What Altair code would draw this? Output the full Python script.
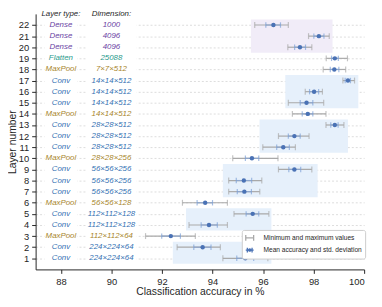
import altair as alt
import pandas as pd

FONT = "Liberation Sans"
INK = "#262626"

layers = list(range(1, 23))
layer_types = ["Conv", "Conv", "MaxPool", "Conv", "Conv", "MaxPool", "Conv", "Conv", "Conv",
               "MaxPool", "Conv", "Conv", "Conv", "MaxPool", "Conv", "Conv", "Conv", "MaxPool",
               "Flatten", "Dense", "Dense", "Dense"]
dims = ["224×224×64", "224×224×64", "112×112×64", "112×112×128", "112×112×128", "56×56×128",
        "56×56×256", "56×56×256", "56×56×256", "28×28×256", "28×28×512", "28×28×512",
        "28×28×512", "14×14×512", "14×14×512", "14×14×512", "14×14×512", "7×7×512",
        "25088", "4096", "4096", "1000"]
mins = [94.41, 92.60, 91.35, 93.07, 94.85, 92.81, 94.64, 94.64, 96.61, 94.80, 95.99,
        96.61, 98.49, 97.16, 97.00, 97.67, 99.16, 98.38, 98.50, 96.98, 97.80, 95.67]
std_lo = [94.96, 93.26, 91.99, 93.55, 95.33, 93.39, 94.98, 94.94, 97.02, 95.30, 96.54,
          97.00, 98.68, 97.55, 97.47, 97.84, 99.25, 98.66, 98.71, 97.25, 98.01, 96.11]
means = [95.30, 93.61, 92.35, 93.86, 95.59, 93.71, 95.26, 95.24, 97.24, 95.56, 96.80,
         97.24, 98.84, 97.77, 97.72, 98.02, 99.36, 98.82, 98.84, 97.46, 98.21, 96.41]
std_hi = [95.63, 93.94, 92.73, 94.19, 95.83, 94.00, 95.54, 95.55, 97.49, 95.83, 97.04,
          97.47, 98.97, 97.97, 97.97, 98.20, 99.46, 99.00, 98.98, 97.68, 98.41, 96.69]
maxs = [96.19, 94.31, 93.32, 94.59, 96.23, 94.59, 95.87, 95.95, 97.93, 96.59, 97.28,
        97.82, 99.20, 98.49, 98.40, 98.35, 99.62, 99.27, 99.34, 97.93, 98.62, 97.00]

# shaded group regions
box_x0 = [92.43, 92.95, 94.41, 95.86, 96.88, 95.52]
box_x1 = [96.33, 96.33, 98.16, 99.36, 99.77, 98.75]
box_y0 = [0.5, 3.5, 6.5, 10.5, 14.5, 19.5]
box_y1 = [2.5, 5.5, 9.5, 13.5, 17.5, 22.5]
box_kind = ["conv", "conv", "conv", "conv", "conv", "dense"]

type_colors = {"Conv": "#3471b3", "MaxPool": "#a8862c", "Flatten": "#2a9a8c", "Dense": "#6a42a3"}
box_colors = {"conv": "#e6f0fb", "dense": "#f1ecf8"}

TYPE_COL_X = 88
DIM_COL_X = 90

df = pd.DataFrame({"layer": layers, "type": layer_types, "dim": dims, "min": mins,
                   "slo": std_lo, "mean": means, "shi": std_hi, "max": maxs})
df["tcolor"] = df["type"].map(type_colors)
df["tx"] = TYPE_COL_X
df["dx"] = DIM_COL_X

boxes = pd.DataFrame({"x0": box_x0, "x1": box_x1, "y0": box_y0, "y1": box_y1, "kind": box_kind})
boxes["color"] = boxes["kind"].map(box_colors)

headers = pd.DataFrame({"label": ["Layer type:", "Dimension:"], "x": [TYPE_COL_X, DIM_COL_X], "y": [23.3, 23.3]})

x_scale = alt.Scale(domain=[87, 100], nice=False, zero=False)
y_scale = alt.Scale(domain=[0, 23], nice=False, zero=False)
x_axis = alt.Axis(values=[88, 90, 92, 94, 96, 98, 100], format="d", grid=False,
                  tickSize=4, labelPadding=3, titleBaseline="alphabetic", titleY=25)
y_axis = alt.Axis(values=layers, grid=True, gridDash=[2, 2], gridColor="#d4d4d4",
                  gridWidth=0.8, tickSize=4, labelPadding=3, titleX=-18)
XT = "Classification accuracy in %"
YT = "Layer number"


def X(f):
    return alt.X(f, type="quantitative", scale=x_scale, axis=x_axis, title=XT)


def X2(f):
    return alt.X2(f)


def Y(f):
    return alt.Y(f, type="quantitative", scale=y_scale, axis=y_axis, title=YT)


base = alt.Chart(df)

box_layer = alt.Chart(boxes).mark_rect().encode(
    x=X("x0"), x2=X2("x1"), y=Y("y0"), y2=alt.Y2("y1"),
    color=alt.Color("color:N", scale=None))

# white knock-outs behind the text columns
ko = base.transform_calculate(
    ya="datum.layer - 0.3", yb="datum.layer + 0.3",
    t0=f"{TYPE_COL_X} - 0.65", t1=f"{TYPE_COL_X} + 0.65",
    d0=f"{DIM_COL_X} - 1.0", d1=f"{DIM_COL_X} + 1.0")
ko_type = ko.mark_rect(color="white").encode(x=X("t0:Q"), x2=X2("t1"), y=Y("ya:Q"), y2=alt.Y2("yb"))
ko_dim = ko.mark_rect(color="white").encode(x=X("d0:Q"), x2=X2("d1"), y=Y("ya:Q"), y2=alt.Y2("yb"))

minmax = base.mark_rule(color="#a9a9a9", strokeWidth=1.2).encode(x=X("min"), x2=X2("max"), y=Y("layer"))
cap_min = base.mark_tick(orient="vertical", color="#a9a9a9", size=6, thickness=1.2).encode(x=X("min"), y=Y("layer"))
cap_max = base.mark_tick(orient="vertical", color="#a9a9a9", size=6, thickness=1.2).encode(x=X("max"), y=Y("layer"))
stdline = base.mark_rule(color="#8ea6cc", strokeWidth=1.2).encode(x=X("slo"), x2=X2("shi"), y=Y("layer"))
cap_slo = base.mark_tick(orient="vertical", color="#7c9fd6", size=5.5, thickness=1.2).encode(x=X("slo"), y=Y("layer"))
cap_shi = base.mark_tick(orient="vertical", color="#7c9fd6", size=5.5, thickness=1.2).encode(x=X("shi"), y=Y("layer"))
dots = base.mark_circle(color="#4a72b5", size=20, opacity=1).encode(x=X("mean"), y=Y("layer"))

txt_type = base.mark_text(font=FONT, fontSize=8, fontStyle="italic", align="center", baseline="middle").encode(
    x=X("tx"), y=Y("layer"), text="type:N", color=alt.Color("tcolor:N", scale=None))
txt_dim = base.mark_text(font=FONT, fontSize=8, fontStyle="italic", align="center", baseline="middle").encode(
    x=X("dx"), y=Y("layer"), text="dim:N", color=alt.Color("tcolor:N", scale=None))
hdr = alt.Chart(headers).mark_text(font=FONT, fontSize=8, fontStyle="italic", align="center",
                                   baseline="top", color=INK).encode(
    x=X("x"), y=Y("y"), text="label:N")

entries = ["Minimum and maximum values", "Mean accuracy and std. deviation"]
leg_df = pd.DataFrame({"entry": entries})
path_minmax = "M-1,0H1M-1,-0.75V0.75M1,-0.75V0.75"
path_mean = "M-1,0H1M-0.6,-0.6V0.6M0.6,-0.6V0.6M-0.28,0A0.28,0.28,0,1,1,0.28,0A0.28,0.28,0,1,1,-0.28,0Z"
leg_common = dict(orient="none", legendX=209, legendY=219, title=None, symbolOpacity=1,
                  symbolSize=64, symbolStrokeWidth=1.3, labelFontSize=6.7, labelFont=FONT,
                  labelColor=INK, labelOffset=9, padding=3, rowPadding=1.4,
                  fillColor="white", strokeColor="#cccccc", cornerRadius=2)
legend_layer = alt.Chart(leg_df).mark_point(opacity=0, filled=False).encode(
    x=alt.value(0), y=alt.value(0),
    color=alt.Color("entry:N", scale=alt.Scale(domain=entries, range=["#a9a9a9", "#4a72b5"]),
                    legend=alt.Legend(**leg_common)),
    shape=alt.Shape("entry:N", scale=alt.Scale(domain=entries, range=[path_minmax, path_mean]),
                    legend=alt.Legend(**leg_common)),
)

chart = alt.layer(box_layer, ko_type, ko_dim, minmax, cap_min, cap_max, stdline, cap_slo, cap_shi,
                  dots, txt_type, txt_dim, hdr, legend_layer).properties(
    width=333, height=259,
    autosize=alt.AutoSizeParams(type="none"),
    padding={"left": 28, "top": 4, "right": 10, "bottom": 28},
).configure_view(stroke=None).configure_axis(
    labelFont=FONT, titleFont=FONT, labelFontSize=9.5, titleFontSize=10.5,
    titleFontWeight="normal", labelColor=INK, titleColor=INK, domainColor=INK,
    tickColor=INK, domainWidth=1, tickWidth=1)

chart.save("out.html", embed_options={"renderer": "svg", "actions": False})
